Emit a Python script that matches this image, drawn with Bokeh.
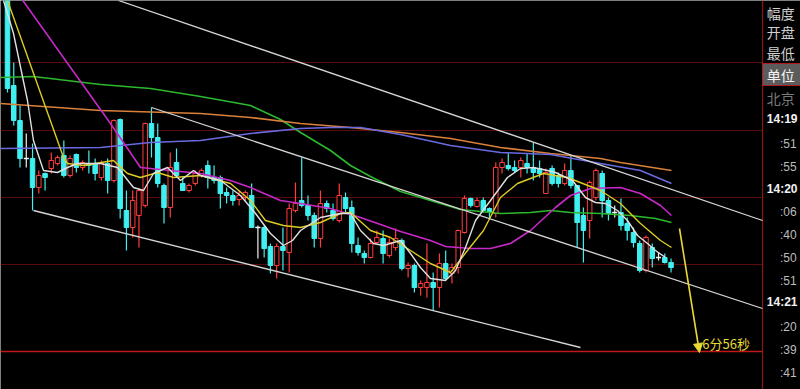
from bokeh.plotting import figure
from bokeh.models import Range1d, Arrow, NormalHead, ColumnDataSource
from bokeh.core.properties import value
from bokeh.embed import file_html
from bokeh.resources import INLINE

# ---------------- data (price units) ----------------
open_ = [404, 304, 269, 231, 231, 202, 216, 221, 226, 234, 214, 235, 222, 226, 226, 212, 226, 209, 270, 179,
         162, 174, 184, 266, 252, 204, 182, 227, 206, 199, 206, 214, 224, 212, 212, 197, 194, 190, 192, 194,
         162, 162, 143, 124, 143, 137, 179, 189, 184, 174, 151, 186, 179, 169, 192, 182, 144, 136, 132, 147,
         151, 134, 142, 149, 121, 124, 102, 102, 107, 102, 126, 116, 122, 157, 191, 183, 189, 181, 176, 222,
         224, 222, 222, 226, 222, 221, 196, 221, 214, 206, 219, 204, 174, 169, 192, 216, 189, 177, 177, 166,
         157, 146, 119, 142, 132, 132, 127]
high = [410, 327, 284, 256, 246, 219, 217, 237, 234, 249, 234, 236, 229, 239, 231, 229, 231, 270, 271, 199,
        199, 201, 267, 282, 266, 206, 237, 241, 212, 206, 219, 221, 229, 224, 214, 202, 199, 199, 199, 206,
        164, 164, 146, 146, 162, 186, 207, 232, 194, 177, 199, 189, 186, 206, 197, 189, 152, 139, 151, 159,
        159, 151, 161, 151, 127, 126, 109, 146, 117, 136, 139, 126, 160, 194, 192, 192, 192, 182, 227, 231,
        236, 229, 232, 236, 247, 229, 221, 224, 217, 226, 234, 204, 182, 209, 221, 219, 192, 184, 191, 172,
        162, 149, 154, 146, 137, 136, 131]
low = [297, 264, 222, 222, 179, 196, 199, 216, 224, 212, 212, 217, 219, 216, 209, 209, 196, 207, 171, 139,
       152, 142, 182, 232, 202, 166, 172, 212, 199, 197, 204, 212, 201, 206, 181, 186, 184, 184, 189, 162,
       131, 132, 116, 111, 119, 117, 177, 182, 169, 142, 142, 177, 169, 167, 177, 137, 134, 126, 131, 146,
       126, 132, 139, 119, 112, 97, 94, 92, 79, 82, 109, 106, 116, 156, 182, 182, 177, 171, 172, 216,
       219, 217, 212, 216, 209, 212, 196, 204, 202, 204, 201, 142, 127, 151, 189, 172, 169, 172, 159, 149,
       142, 117, 117, 122, 129, 126, 117]
close = [301, 269, 231, 231, 202, 214, 212, 229, 232, 214, 231, 222, 227, 224, 216, 226, 209, 269, 181, 162,
         189, 199, 266, 252, 206, 182, 222, 214, 199, 204, 216, 219, 212, 209, 196, 194, 189, 194, 197, 162,
         162, 141, 124, 143, 139, 181, 186, 184, 174, 151, 186, 181, 171, 194, 181, 146, 137, 132, 146, 152,
         136, 147, 151, 121, 124, 102, 106, 107, 102, 126, 111, 122, 159, 191, 184, 189, 179, 177, 222, 227,
         221, 219, 229, 222, 217, 216, 217, 206, 206, 219, 204, 167, 159, 207, 219, 189, 176, 177, 164, 159,
         147, 119, 152, 131, 132, 127, 122]

# moving-average lines (bar index, price)
ma_white_x = [-0.64, 0.96, 3.19, 4.15, 5.75, 7.99, 9.58, 11.18, 14.86, 17.57, 20.13, 21.73, 23.32, 25.56, 27.64,
              29.71, 30.83, 34.03, 37.22, 39.62, 42.01, 44.09, 45.53, 46.81, 50.0, 53.19, 54.79, 56.39, 58.47,
              60.06, 61.18, 62.78, 64.38, 65.97, 67.57, 69.97, 71.57, 73.16, 74.76, 77.16, 79.87, 81.95, 84.03,
              86.26, 87.54, 90.26, 92.33, 93.93, 95.53, 97.44, 99.04, 100.64, 102.24, 103.51, 105.11]
ma_white_y = [389, 356, 289, 249, 219, 217, 222, 226, 226, 222, 202, 199, 216, 222, 209, 219, 214, 209, 194, 176,
              156, 144, 149, 159, 172, 176, 176, 159, 146, 144, 146, 149, 136, 122, 111, 109, 119, 142, 169, 189,
              212, 221, 222, 219, 217, 209, 192, 187, 186, 179, 169, 154, 146, 139, 132]
ma_yellow_x = [0, 8.95, 9.58, 12.14, 16.93, 19.17, 21.25, 23.96, 26.52, 30.83, 35.62, 38.82, 41.21, 44.09, 46.81,
               50.0, 53.19, 54.79, 57.99, 61.18, 64.38, 67.57, 70.77, 73.48, 76.04, 78.75, 81.47, 85.62, 89.46,
               94.73, 97.92, 101.12, 104.31, 106.07]
ma_yellow_y = [389, 232, 226, 224, 229, 216, 212, 217, 212, 214, 206, 189, 169, 164, 162, 167, 176, 177, 159, 152,
               139, 126, 117, 139, 159, 192, 206, 216, 212, 199, 186, 166, 149, 142]
ma_magenta_x = [2.1, 16.45, 21.25, 30.83, 35.62, 38.82, 43.61, 46.81, 51.6, 56.39, 62.78, 67.57, 69.97, 73.96,
                77.16, 80.35, 83.55, 87.54, 89.94, 93.13, 97.92, 101.12, 104.31, 106.07]
ma_magenta_y = [392, 266, 222, 216, 209, 202, 189, 186, 181, 172, 158, 149, 143, 141, 141, 146, 159, 182, 194, 201,
                202, 196, 184, 174]
ma_green_x = [-1.12, 4.15, 14.86, 22.84, 30.83, 38.82, 43.61, 46.81, 51.6, 54.79, 57.99, 62.78, 67.57, 72.36,
              78.75, 83.55, 86.74, 89.94, 94.73, 99.52, 103.51, 106.07]
ma_green_y = [312, 313, 305, 301, 293, 284, 270, 257, 239, 224, 213, 198, 189, 180, 176, 177, 179, 177, 176, 174,
              171, 167]
ma_orange_x = [-1.12, 14.86, 30.83, 38.82, 46.81, 54.79, 62.78, 70.77, 78.75, 86.74, 94.73, 97.92, 106.07]
ma_orange_y = [286, 279, 276, 272, 266, 262, 257, 251, 242, 236, 231, 227, 219]
ma_blue_x = [-1.12, 14.86, 22.84, 30.83, 38.82, 46.81, 51.6, 56.39, 62.78, 70.77, 78.75, 86.74, 94.73, 101.12,
             106.07]
ma_blue_y = [241, 242, 247, 249, 256, 261, 262, 262, 255, 244, 237, 235, 226, 219, 206]

# hand-drawn channel lines (start/end in bar index, price)
chan_x0 = [17.73, 23.0, 4.15]
chan_y0 = [389, 282, 179]
chan_x1 = [120.61, 120.61, 91.53]
chan_y1 = [169, 81, 42]

grid_prices = [327, 259, 192, 125]
target_price = 38
arrow_start = (107.35, 161)
arrow_end = (110.54, 37)
arrow_text = "6分56秒"

panel_labels = ["幅度", "开盘", "最低", "单位", "北京"]
panel_label_y = [377, 358, 337, 315, 292]
time_major = ["14:19", "14:20", "14:21"]
time_major_y = [271, 201, 88]
time_minor = [":51", ":55", ":06", ":40", ":50", ":51", ":20", ":39", ":41"]
time_minor_y = [246, 223, 178, 155, 132, 109, 63, 40, 17]

# ---------------- figure ----------------
X0, X1 = -1.118, 126.68
PANEL_X = 120.61
p = figure(width=800, height=389, x_range=Range1d(X0, X1), y_range=Range1d(0, 389),
           output_backend="svg", toolbar_location=None, x_axis_location=None, y_axis_location=None,
           min_border=0, background_fill_color="black", border_fill_color="black",
           outline_line_color=None)
p.grid.visible = False

# grid lines
p.segment(x0=[X0] * len(grid_prices), x1=[PANEL_X] * len(grid_prices), y0=grid_prices, y1=grid_prices,
          line_color="#5a0c0c", line_width=1)
p.segment(x0=[X0], x1=[PANEL_X], y0=[target_price], y1=[target_price], line_color="#c41818", line_width=1.5)
p.segment(x0=[PANEL_X], x1=[PANEL_X], y0=[0], y1=[389], line_color="#8c1414", line_width=1.2)

# candles
RED, CYAN, WHITE = "#ff3c3c", "#40f0f0", "#f0f0f0"
idx = list(range(len(open_)))
colors = [RED if c > o else (CYAN if c < o else WHITE) for o, c in zip(open_, close)]
fills = ["black" if c > o else (CYAN if c < o else WHITE) for o, c in zip(open_, close)]
src = ColumnDataSource(dict(x=idx, o=open_, h=high, l=low, c=close,
                            top=[max(a, b) for a, b in zip(open_, close)],
                            bot=[min(a, b) for a, b in zip(open_, close)],
                            col=colors, fill=fills))
p.segment(x0="x", x1="x", y0="l", y1="h", line_color="col", line_width=1.2, source=src)
p.vbar(x="x", width=0.72, top="top", bottom="bot", fill_color="fill", line_color="col", line_width=1,
       source=src)
doji = ColumnDataSource(dict(xl=[i - 0.4 for i in idx if open_[i] == close[i]],
                             xr=[i + 0.4 for i in idx if open_[i] == close[i]],
                             y=[close[i] for i in idx if open_[i] == close[i]]))
p.segment(x0="xl", x1="xr", y0="y", y1="y", line_color=WHITE, line_width=1.5, source=doji)

# moving averages
p.line(ma_green_x, ma_green_y, line_color="#2cb82c", line_width=1.6)
p.line(ma_orange_x, ma_orange_y, line_color="#d9803a", line_width=1.6)
p.line(ma_blue_x, ma_blue_y, line_color="#6a6ae0", line_width=1.6)
p.line(ma_magenta_x, ma_magenta_y, line_color="#c828c8", line_width=1.6)
p.line(ma_yellow_x, ma_yellow_y, line_color="#dccc24", line_width=1.4)
p.line(ma_white_x, ma_white_y, line_color="#e0e0e0", line_width=1.4)

# channel lines
p.segment(x0=chan_x0, y0=chan_y0, x1=chan_x1, y1=chan_y1, line_color="#d6d6d6", line_width=1.3)

# arrow and countdown text
YEL = "#e8d838"
p.add_layout(Arrow(end=NormalHead(size=9, fill_color=YEL, line_color=YEL),
                   x_start=arrow_start[0], y_start=arrow_start[1], x_end=arrow_end[0], y_end=arrow_end[1],
                   line_color=YEL, line_width=1.6))
p.text(x=[111.0], y=[46], text=[arrow_text], text_font=value("Noto Sans CJK SC"), text_font_size="13px",
       text_baseline="middle", text_align="left", text_color=YEL)

# right info panel
p.quad(left=[PANEL_X], right=[X1 + 1], top=[326], bottom=[304], fill_color="#5c5c5c", line_color="#b01c1c",
       line_width=1)
lab_colors = ["#d0d0d0", "#d0d0d0", "#d0d0d0", "#f4f4f4", "#7a7a7a"]
p.text(x=[121.3] * len(panel_labels), y=panel_label_y, text=panel_labels, text_color=lab_colors,
       text_font=value("Noto Sans CJK SC"), text_font_size="14px", text_baseline="middle")
p.text(x=[121.3] * len(time_major), y=time_major_y, text=time_major, text_color="#f2f2f2",
       text_font=value("Liberation Sans"), text_font_size="12px", text_font_style="bold",
       text_baseline="middle")
p.text(x=[123.4] * len(time_minor), y=time_minor_y, text=time_minor, text_color="#bcbcbc",
       text_font=value("Liberation Sans"), text_font_size="12px", text_baseline="middle")

open("out.html", "w").write(file_html(p, INLINE))
